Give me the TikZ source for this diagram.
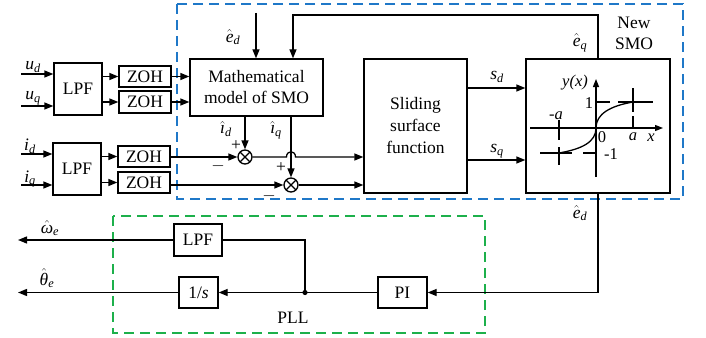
\documentclass[tikz,border=0pt]{standalone}
\usepackage{fontspec}
\setmainfont{Liberation Serif}
\usetikzlibrary{arrows.meta}
\definecolor{azulSMO}{HTML}{1F78C8}
\definecolor{verdePLL}{HTML}{1DB04B}
\tikzset{
  cajaB/.style={draw,line width=1.3pt,inner sep=0pt,align=center},   % bloque
  sumaX/.style={draw,circle,line width=1.3pt,minimum size=14pt,inner sep=0pt,
    path picture={\draw[line width=1.1pt] (path picture bounding box.south west) -- (path picture bounding box.north east)
      (path picture bounding box.north west) -- (path picture bounding box.south east);}},
  flechaN/.style={-{Triangle[length=9pt,width=7pt]}},
  marcoD/.style={line width=1.5pt,dash pattern=on 10pt off 6pt},
  texto/.style={inner sep=0pt,align=center},
}
\newcommand{\vSub}[2]{\textit{#1}\textsubscript{\textit{#2}}}               % variable con subindice
\newcommand{\vHat}[2]{$\hat{\mbox{\textit{#1}}}$\textsubscript{\textit{#2}}} % variable estimada
\newcommand{\curvaSat}{%
  \draw[-{Triangle[length=8pt,width=6pt]}] (-66,0) -- (67,0);          % eje x
  \draw[-{Triangle[length=8pt,width=6pt]}] (0,49) -- (0,-49);          % eje y
  \draw (-56,25) -- (-24,25) (-13,25) -- (0,25);                       % nivel -1
  \draw (1,-26) -- (14,-26) (22,-26) -- (57,-26);                      % nivel 1
  \draw (-37,-8) -- (-37,12) (-37,19) -- (-37,37);                     % marca -a
  \draw (37,-40) -- (37,-16) (37,-12) -- (37,-1);                      % marca a
  \draw (-37,25) .. controls (-14,21) and (0,14) .. (0,0)
        .. controls (0,-14) and (14,-22) .. (37,-26);                  % curva
  \node[texto] (gYx) at (-21,-45) {\textit{y(x)}};
  \node[texto] (gUno) at (-7,-25) {1};
  \node[texto] (gMa) at (-40,-12) {-\textit{a}};
  \node[texto] (gA) at (37,9) {\textit{a}};
  \node[texto] (gCero) at (6,9) {0};
  \node[texto] (gX) at (55,10) {\textit{x}};
  \node[texto] (gMuno) at (15,26) {-1};
}

\begin{document}
\begin{tikzpicture}[x=1pt,y=-1pt,font=\fontsize{17.5}{21}\selectfont,line width=1.3pt]
  \useasboundingbox (0,0) rectangle (706,337);
  \draw[marcoD,azulSMO] (177,4) rectangle (683,199);
  \draw[marcoD,verdePLL] (113,216) rectangle (485,333);
  % bloques
  \node[cajaB,minimum width=48pt,minimum height=52pt] (lpfU) at (78,89) {LPF};
  \node[cajaB,minimum width=52pt,minimum height=21pt] (zohA) at (145,76.5) {ZOH};
  \node[cajaB,minimum width=52pt,minimum height=22pt] (zohB) at (145,102) {ZOH};
  \node[cajaB,minimum width=48pt,minimum height=52pt] (lpfI) at (77,169) {LPF};
  \node[cajaB,minimum width=52pt,minimum height=21pt] (zohC) at (144,156.5) {ZOH};
  \node[cajaB,minimum width=52pt,minimum height=21pt] (zohD) at (144,182.5) {ZOH};
  \node[cajaB,minimum width=133pt,minimum height=57pt] (smoM) at (256.5,87.5) {Mathematical\\model of SMO};
  \node[cajaB,minimum width=103pt,minimum height=134pt,font=\fontsize{17.5}{22}\selectfont] (sldS) at (415.5,126) {Sliding\\surface\\function};
  \node[cajaB,minimum width=144pt,minimum height=134pt] (nsmo) at (598,126) {};
  \node[sumaX] (sumA) at (245,157) {};
  \node[sumaX] (sumB) at (291,185) {};
  \node[cajaB,minimum width=48pt,minimum height=32pt] (lpfW) at (198,240) {LPF};
  \node[cajaB,minimum width=39pt,minimum height=31pt] (intS) at (198.5,292.5) {1/\textit{s}};
  \node[cajaB,minimum width=49pt,minimum height=31pt] (piC) at (402.5,292.5) {PI};
  \begin{scope}[shift={(596,128)},font=\fontsize{16.5}{19}\selectfont] \curvaSat \end{scope}
  % puntos libres
  \coordinate (inUd) at (21,74);
  \coordinate (inUq) at (21,106);
  \coordinate (inId) at (21,154);
  \coordinate (inIq) at (21,185);
  \coordinate (inEd) at (256,13);
  \coordinate (fbk) at (293,15);
  \coordinate (sdY) at (0,88);
  \coordinate (sqY) at (0,160);
  \coordinate (pll) at (305,292.5);
  \coordinate (outW) at (18,240);
  \coordinate (outT) at (18,292.5);
  % conexiones
  \draw[flechaN] (inUd) -- (inUd -| lpfU.west);
  \draw[flechaN] (inUq) -- (inUq -| lpfU.west);
  \draw[flechaN] (inId) -- (inId -| lpfI.west);
  \draw[flechaN] (inIq) -- (inIq -| lpfI.west);
  \draw[flechaN] (lpfU.east |- zohA) -- (zohA.west);
  \draw[flechaN] (lpfU.east |- zohB) -- (zohB.west);
  \draw[flechaN] (lpfI.east |- zohC) -- (zohC.west);
  \draw[flechaN] (lpfI.east |- zohD) -- (zohD.west);
  \draw[flechaN] (zohA.east) -- (zohA.east -| smoM.west);
  \draw[flechaN] (zohB.east) -- (zohB.east -| smoM.west);
  \draw[flechaN] (inEd) -- (inEd |- smoM.north);
  \draw[flechaN] (nsmo.north) |- (fbk) -- (fbk |- smoM.north);
  \draw[flechaN] (smoM.south -| sumA) -- (sumA.north);
  \draw[flechaN] (smoM.south -| sumB) -- (sumB.north);
  \draw[flechaN] (zohC.east |- sumA) -- (sumA.west);
  \draw[flechaN] (zohD.east |- sumB) -- (sumB.west);
  \draw[flechaN] (sumA.east) -- ([xshift=-4.5pt]sumB |- sumA) to[out=90,in=90,looseness=2] ([xshift=4.5pt]sumB |- sumA) -- (sldS.west |- sumA);
  \draw[flechaN] (sumB.east) -- (sldS.west |- sumB);
  \draw[flechaN] (sldS.east |- sdY) -- (nsmo.west |- sdY);
  \draw[flechaN] (sldS.east |- sqY) -- (nsmo.west |- sqY);
  \draw[flechaN] (nsmo.south) |- (piC.east);
  \draw[flechaN] (piC.west) -- (intS.east);
  \draw (pll) |- (lpfW.east);
  \fill (pll) circle (2.6pt);
  \draw[flechaN] (lpfW.west) -- (outW);
  \draw[flechaN] (intS.west) -- (outT);
  % etiquetas
  \node[texto] (tUd) at (33,67) {\vSub{u}{d}};
  \node[texto] (tUq) at (33,98) {\vSub{u}{q}};
  \node[texto] (tId) at (30,146) {\vSub{i}{d}};
  \node[texto] (tIq) at (30,179) {\vSub{i}{q}};
  \node[texto] (tEd) at (233,37) {\vHat{e}{d}};
  \node[texto] (tEq) at (580,43) {\vHat{e}{q}};
  \node[texto] (tNew) at (634,33) {New\\SMO};
  \node[texto] (tHid) at (226,129) {\vHat{ı}{d}};
  \node[texto] (tHiq) at (276,130) {\vHat{ı}{q}};
  \node[texto] (tPa) at (236,146) {+};
  \node[texto] (tPb) at (281,168) {+};
  \node[texto] (tMa) at (218,166) {$-$};
  \node[texto] (tMb) at (269,196) {$-$};
  \node[texto] (tSd) at (497,77) {\vSub{s}{d}};
  \node[texto] (tSq) at (497,151) {\vSub{s}{q}};
  \node[texto] (tEd2) at (580,213) {\vHat{e}{d}};
  \node[texto] (tW) at (50,228) {\vHat{ω}{e}};
  \node[texto] (tT) at (47,278) {\vHat{θ}{e}};
  \node[texto] (tPLL) at (293,318) {PLL};
\end{tikzpicture}
\end{document}
